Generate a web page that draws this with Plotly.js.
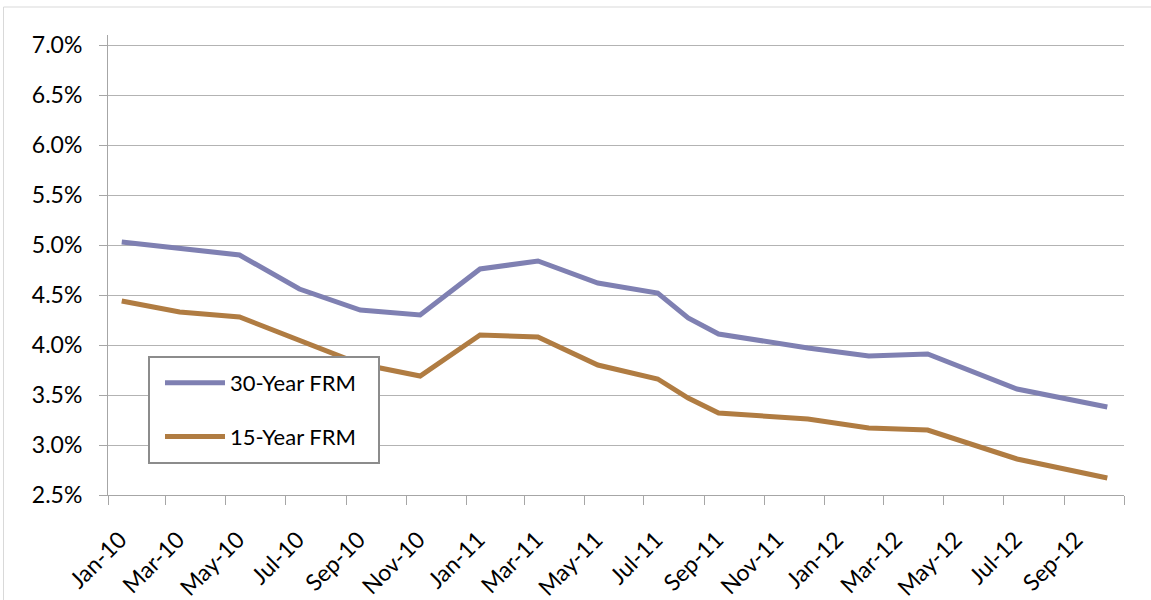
<!DOCTYPE html>
<html>
<head>
<meta charset="utf-8">
<script src="https://cdn.plot.ly/plotly-3.0.1.min.js"></script>
<style>html,body{margin:0;padding:0;background:#fff;}#chart{width:1151px;height:600px;}</style>
</head>
<body>
<div id="chart"></div>
<script>
// Data
const dates = ['2010-01-15','2010-03-15','2010-05-15','2010-07-15','2010-09-15','2010-11-15',
               '2011-01-15','2011-03-15','2011-05-15','2011-07-15','2011-08-15','2011-09-15',
               '2011-12-15','2012-02-15','2012-04-15','2012-07-15','2012-10-15'];
const frm30 = [5.03, 4.97, 4.90, 4.56, 4.35, 4.30, 4.76, 4.84, 4.62, 4.52, 4.27, 4.11, 3.97, 3.89, 3.91, 3.56, 3.38];
const frm15 = [4.44, 4.33, 4.28, 4.05, 3.81, 3.69, 4.10, 4.08, 3.80, 3.66, 3.47, 3.32, 3.26, 3.17, 3.15, 2.86, 2.67];
const tickDates = ['2010-01-01','2010-03-01','2010-05-01','2010-07-01','2010-09-01','2010-11-01',
                   '2011-01-01','2011-03-01','2011-05-01','2011-07-01','2011-09-01','2011-11-01',
                   '2012-01-01','2012-03-01','2012-05-01','2012-07-01','2012-09-01','2012-11-01'];
const tickLabels = ['Jan-10','Mar-10','May-10','Jul-10','Sep-10','Nov-10',
                    'Jan-11','Mar-11','May-11','Jul-11','Sep-11','Nov-11',
                    'Jan-12','Mar-12','May-12','Jul-12','Sep-12',''];
const seriesNames = ['30-Year FRM','15-Year FRM'];

const FONT = 'Lato, "Open Sans", sans-serif';
const traces = [
  {x: dates, y: frm30, name: seriesNames[0], type: 'scatter', mode: 'lines',
   line: {color: '#7F80B2', width: 5}, legendgroup: 'a'},
  {x: dates, y: frm15, name: seriesNames[1], type: 'scatter', mode: 'lines',
   line: {color: '#B07C42', width: 5}, legendgroup: 'b'}
];

// pixel -> paper helpers for the plot area (l=108, r=1124, t=35, b=495)
const px = v => (v - 108) / 1016;
const py = v => (495 - v) / 460;

const layout = {
  width: 1151, height: 600,
  margin: {l: 108, r: 27, t: 35, b: 105},
  paper_bgcolor: '#fff', plot_bgcolor: '#fff',
  font: {family: FONT, size: 22, color: '#000'},
  showlegend: true,
  xaxis: {
    type: 'date', range: ['2010-01-01', '2012-11-01'],
    tickmode: 'array', tickvals: tickDates, ticktext: tickLabels,
    tickangle: -45, ticks: 'outside', ticklen: 9, tickcolor: '#A6A6A6', tickwidth: 1,
    showline: true, linecolor: '#A6A6A6', linewidth: 1,
    showgrid: false, zeroline: false,
    ticklabelstandoff: 12, ticklabelshift: 12,
    tickfont: {family: FONT, size: 23, color: '#000'}
  },
  yaxis: {
    range: [2.5, 7.1], tickmode: 'linear', tick0: 2.5, dtick: 0.5,
    tickformat: '.1f', ticksuffix: '%',
    ticks: 'outside', ticklen: 8, tickcolor: '#A6A6A6', tickwidth: 1,
    showline: true, linecolor: '#A6A6A6', linewidth: 1,
    showgrid: true, gridcolor: '#B3B3B3', gridwidth: 1, zeroline: false,
    ticklabelstandoff: 12,
    tickfont: {family: FONT, size: 23, color: '#000'}
  },
  legend: {
    x: px(160), y: py(362), xanchor: 'left', yanchor: 'top',
    bgcolor: 'rgba(0,0,0,0)', borderwidth: 0,
    traceorder: 'grouped', tracegroupgap: 22, itemwidth: 60,
    font: {family: FONT, size: 22, color: '#000'}
  },
  shapes: [
    {type: 'rect', xref: 'paper', yref: 'paper', x0: px(3.5), x1: px(1170), y0: py(7), y1: py(640),
     line: {color: '#D9D9D9', width: 1}, fillcolor: 'rgba(0,0,0,0)', layer: 'below'},
    {type: 'rect', xref: 'paper', yref: 'paper', x0: px(149), x1: px(379), y0: py(357), y1: py(463),
     line: {color: '#8C8C8C', width: 2}, fillcolor: '#ffffff', layer: 'above'}
  ]
};

Plotly.newPlot('chart', traces, layout, {displayModeBar: false, staticPlot: true});
</script>
</body>
</html>
